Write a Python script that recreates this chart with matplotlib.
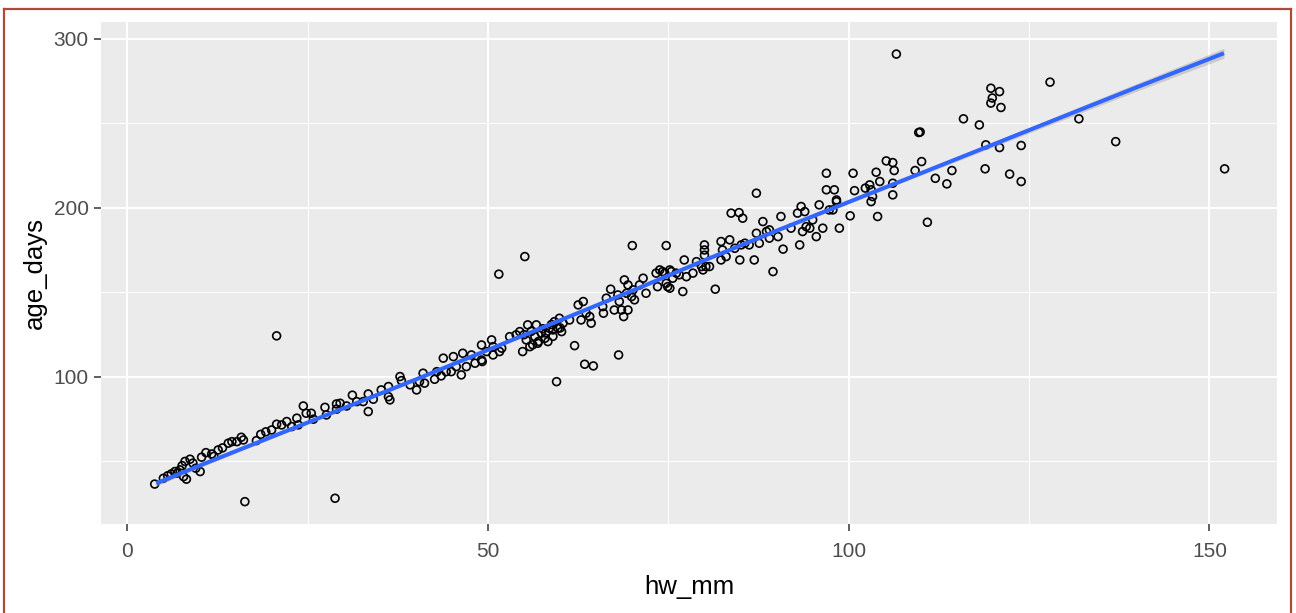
import numpy as np
import matplotlib
matplotlib.use("Agg")
import matplotlib.pyplot as plt
from matplotlib.lines import Line2D

# ---- data -------------------------------------------------------------
hw_mm = [
    3.8, 5.0, 5.6, 6.1, 6.6, 6.9, 7.3, 7.6, 7.8, 8.2, 8.0, 8.7, 9.1, 9.5, 10.1, 10.3,
    10.9, 11.7, 12.0, 12.6, 13.2, 14.0, 14.5, 15.2, 15.8, 16.1, 17.9, 16.3, 18.5, 19.2,
    20.0, 20.7, 21.4, 22.1, 22.8, 23.7, 23.5, 24.4, 24.8, 25.5, 25.8, 27.4, 27.6, 29.0,
    28.8, 20.7,
    29.0, 29.5, 30.4, 31.2, 31.8, 32.7, 33.4, 34.1, 33.4, 35.2, 36.2, 36.4, 36.2, 37.8,
    38.0, 39.2, 40.1, 40.5, 41.0, 41.2, 42.6, 42.9, 43.5, 43.8, 44.2, 44.9, 45.2, 45.6,
    46.3, 46.5, 47.0, 47.7, 48.2, 49.1, 49.2, 49.8, 50.5, 50.7, 50.7, 51.6, 51.9, 53.0,
    53.9,
    49.1, 54.4, 54.8, 55.3, 55.5, 55.8, 56.5, 56.7, 56.9, 57.4, 57.9, 58.3, 58.5, 59.0,
    59.2, 59.7, 59.9, 60.2, 60.4, 61.3, 62.5, 63.2, 62.9, 63.6, 64.3, 64.1, 65.9, 66.0,
    66.4, 67.0, 67.5, 68.0, 68.2, 68.5, 68.8, 68.9, 69.2, 69.4, 69.4, 69.9, 70.3, 70.1,
    71.0, 71.5, 71.9, 73.3, 73.5, 74.2, 74.7, 75.2, 75.4, 76.1,
    55.0, 56.0, 57.0, 58.0, 59.0, 60.0, 56.2, 57.6, 58.8,
    55.1, 51.5, 70.0, 74.7, 62.0, 63.4, 64.6, 68.1, 59.5,
    73.8, 74.5, 75.2, 74.9, 75.6, 77.0, 77.2, 77.5, 78.4, 78.9, 79.6, 80.0, 80.0, 80.0,
    80.2, 80.7, 81.5, 82.3, 82.3, 83.5, 83.7, 84.8, 85.3, 85.1, 84.9, 86.2, 86.9, 87.2,
    87.2, 88.1, 88.6, 89.0, 89.5, 90.2, 90.6, 90.9, 92.0, 92.9, 93.2, 93.4, 93.6, 93.9,
    94.6, 95.5, 95.9, 96.4, 96.9, 96.9, 97.3, 98.0, 98.3, 98.7, 100.2, 100.6, 100.8,
    82.5, 83.0, 84.2, 85.6, 87.6, 89.0, 94.1, 95.0, 97.8, 79.8, 76.5,
    98.3, 102.3, 102.9, 103.1, 103.1, 103.3, 103.8, 104.3, 104.0, 105.2, 106.1, 106.3,
    106.1, 106.1, 109.2, 109.7, 109.9, 110.1, 110.9, 112.0, 113.6, 114.3, 119.0, 120.9,
    118.9, 122.3, 123.9, 123.9,
    106.6, 119.7, 120.9, 119.7, 121.1, 119.9, 115.9, 118.1, 127.9, 131.9, 137.0, 152.1,
]
age_days = [
    36.6, 40.0, 41.5, 42.6, 44.0, 43.0, 45.0, 47.5, 41.0, 39.5, 50.0, 51.3, 49.0, 46.0, 44.0, 52.5,
    55.2, 54.4, 53.0, 56.8, 58.0, 60.8, 61.7, 61.7, 64.3, 62.7, 62.3, 26.2, 66.0, 67.5,
    68.6, 72.0, 71.6, 73.6, 70.6, 71.6, 75.6, 82.8, 78.5, 78.5, 75.0, 82.0, 77.5, 84.0,
    28.2, 124.3,
    80.9, 84.4, 82.8, 89.2, 85.4, 85.4, 89.9, 86.8, 79.5, 92.3, 94.3, 86.4, 88.3, 100.2,
    97.8, 95.3, 92.3, 97.2, 102.2, 96.3, 98.6, 103.1, 100.6, 111.1, 103.1, 103.1, 112.0, 106.1,
    101.2, 114.0, 106.1, 113.0, 108.1, 118.9, 109.1, 115.0, 121.9, 117.9, 113.0, 115.0, 117.0, 123.8,
    124.9,
    110.0, 126.8, 115.0, 121.9, 130.8, 117.9, 123.8, 130.8, 119.9, 125.9, 122.9, 120.9, 128.8, 127.8,
    132.7, 128.8, 134.7, 126.8, 131.8, 133.7, 142.6, 144.6, 133.7, 137.7, 131.8, 135.7, 141.6, 137.7,
    146.6, 151.9, 139.6, 148.5, 144.6, 139.6, 135.7, 157.4, 149.5, 139.6, 154.4, 147.5, 145.6, 151.5,
    154.4, 158.4, 149.5, 161.4, 153.4, 162.3, 155.4, 152.5, 162.3, 161.4,
    125.0, 127.0, 121.0, 126.0, 124.0, 129.0, 119.0, 128.5, 131.0,
    171.2, 160.8, 177.7, 177.7, 118.5, 107.5, 106.5, 113.0, 97.2,
    163.3, 161.4, 163.3, 153.4, 158.4, 150.5, 169.2, 159.3, 161.4, 168.2, 165.3, 178.1, 175.1, 172.0,
    165.3, 165.3, 151.9, 180.1, 169.2, 181.1, 196.9, 197.2, 193.9, 178.1, 169.2, 178.1, 169.2, 208.7,
    185.0, 191.9, 186.0, 187.0, 162.3, 183.0, 194.9, 175.6, 188.0, 196.9, 178.1, 200.8, 186.0, 197.8,
    188.0, 183.0, 201.8, 188.0, 220.5, 210.7, 198.8, 210.7, 203.7, 188.0, 195.3, 220.5, 210.2,
    175.1, 171.2, 176.1, 179.1, 179.1, 182.1, 188.9, 192.9, 198.8, 163.3, 160.4,
    204.7, 211.7, 213.6, 210.7, 203.7, 206.7, 221.1, 215.6, 194.9, 227.8, 226.8, 222.1,
    214.6, 207.7, 222.1, 244.6, 244.9, 227.4, 191.5, 217.5, 214.2, 222.1, 237.3, 235.7,
    223.1, 220.0, 236.9, 215.6,
    291.0, 270.8, 268.8, 262.0, 259.4, 265.0, 252.7, 249.1, 274.4, 252.7, 239.2, 223.1,
]

# smoothed trend with its standard-error half width
fit_x = [4, 10, 20, 30, 40, 50, 60, 70, 80, 90, 100, 110, 120, 130, 140, 152]
fit_y = [37.0, 47.5, 64.5, 81.5, 98.5, 116.0, 133.5, 151.0, 169.0, 186.5, 203.5,
         220.5, 237.5, 254.5, 271.5, 291.5]
fit_se = [1.6, 1.3, 1.0, 0.9, 0.8, 0.8, 0.8, 0.8, 0.8, 0.9, 1.0, 1.2, 1.5, 1.9, 2.3, 2.9]

x_ticks = [0, 50, 100, 150]
y_ticks = [100, 200, 300]

# ---- figure -------------------------------------------------------------
W, H = 1296, 613
plt.rcParams["font.family"] = ["Liberation Sans", "DejaVu Sans"]
fig = plt.figure(figsize=(W / 100, H / 100), dpi=100)
fig.patch.set_facecolor("white")

left, right, top, bottom = 101.3, 1277.3, 22.3, 524.3
ax = fig.add_axes([left / W, 1 - bottom / H, (right - left) / W, (bottom - top) / H])
ax.set_facecolor("#EBEBEB")
ax.set_xlim(-3.6, 159.4)
ax.set_ylim(12.8, 309.8)

ax.set_xticks(x_ticks)
ax.set_yticks(y_ticks)
ax.set_xticks([25, 75, 125], minor=True)
ax.set_yticks([50, 150, 250], minor=True)
ax.grid(True, which="major", color="white", linewidth=1.5)
ax.grid(True, which="minor", color="white", linewidth=0.75)
ax.set_axisbelow(True)
for s in ax.spines.values():
    s.set_visible(False)
ax.tick_params(which="major", length=5, width=1.1, color="#333333",
               labelsize=15, labelcolor="#4D4D4D")
ax.tick_params(axis="x", which="major", pad=8)
ax.tick_params(axis="y", which="major", pad=4)
ax.tick_params(which="minor", length=0)

ax.fill_between(fit_x, np.array(fit_y) - np.array(fit_se),
                np.array(fit_y) + np.array(fit_se),
                color="#999999", alpha=0.4, linewidth=0, zorder=3)
ax.scatter(hw_mm, age_days, s=32, facecolors="none", edgecolors="black",
           linewidths=1.2, zorder=2)
ax.plot(fit_x, fit_y, color="#3366FF", linewidth=2.9, zorder=4,
        solid_capstyle="butt")

ax.set_xlabel("hw_mm", fontsize=18.5, color="black", labelpad=10)
ax.set_ylabel("age_days", fontsize=18.5, color="black", labelpad=5)

# outer frame
frame_col = "#AD4B3B"
fx0, fx1, fy0 = 3.5 / W, 1290.5 / W, 1 - 8.5 / H
fig.add_artist(Line2D([fx0, fx1], [fy0, fy0], color=frame_col, lw=1.6,
                      transform=fig.transFigure))
fig.add_artist(Line2D([fx0, fx0], [fy0, -0.01], color=frame_col, lw=1.6,
                      transform=fig.transFigure))
fig.add_artist(Line2D([fx1, fx1], [fy0, -0.01], color=frame_col, lw=1.6,
                      transform=fig.transFigure))

fig.savefig("out.png", dpi=100)
